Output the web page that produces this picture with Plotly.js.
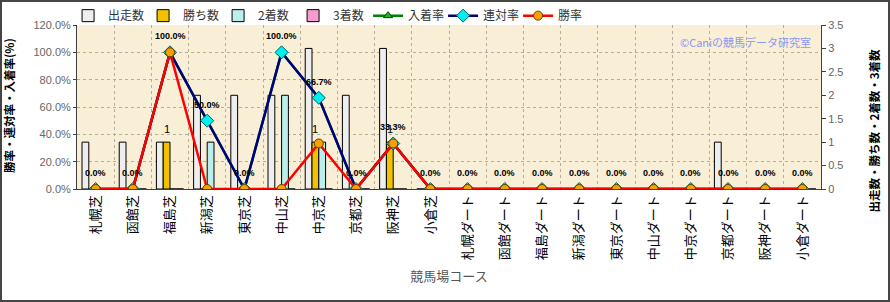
<!DOCTYPE html>
<html>
<head>
<meta charset="utf-8">
<script src="https://cdn.plot.ly/plotly-3.0.1.min.js"></script>
<style>
  html, body { margin: 0; padding: 0; background: #ffffff; }
  #frame { width: 890px; height: 302px; box-sizing: border-box; border: 2px solid #454545; background: #ffffff; }
  #chart { width: 886px; height: 298px; }
</style>
</head>
<body>
<div id="frame"><div id="chart"></div></div>
<script>
// ---- data ----
const categories = ['札幌芝','函館芝','福島芝','新潟芝','東京芝','中山芝','中京芝','京都芝','阪神芝','小倉芝',
  '札幌ダート','函館ダート','福島ダート','新潟ダート','東京ダート','中山ダート','中京ダート','京都ダート','阪神ダート','小倉ダート'];
const starts   = [1,1,1,2,2,2,3,2,3,0, 0,0,0,0,0,0,0,1,0,0];
const wins     = [0,0,1,0,0,0,1,0,1,0, 0,0,0,0,0,0,0,0,0,0];
const seconds  = [0,0,0,1,0,2,1,0,0,0, 0,0,0,0,0,0,0,0,0,0];
const thirds   = [0,0,0,0,0,0,0,0,0,0, 0,0,0,0,0,0,0,0,0,0];
const placeRate  = [0,0,100,50,0,100,66.7,0,33.3,0, 0,0,0,0,0,0,0,0,0,0];
const rentaiRate = [0,0,100,50,0,100,66.7,0,33.3,0, 0,0,0,0,0,0,0,0,0,0];
const winRate    = [0,0,100,0,0,0,33.3,0,33.3,0, 0,0,0,0,0,0,0,0,0,0];

const leftTitle = '勝率・連対率・入着率(%)';
const rightTitle = '出走数・勝ち数・2着数・3着数';
const xTitle = '競馬場コース';
const watermark = '©Caniの競馬データ研究室';

const FONT = 'Liberation Sans, Arial, Noto Sans CJK JP, sans-serif';
const JFONT = 'Noto Sans CJK JP, sans-serif';

function barTrace(name, y, fill) {
  return { type: 'bar', name: name, x: categories, y: y, yaxis: 'y',
    marker: { color: fill, line: { color: '#000000', width: 1 } }, hoverinfo: 'x+y' };
}
const traces = [
  barTrace('出走数', starts, '#eeeeee'),
  barTrace('勝ち数', wins, '#f2c200'),
  barTrace('2着数', seconds, '#bdeeee'),
  barTrace('3着数', thirds, '#f79ccc'),
  { type: 'scatter', mode: 'lines+markers', name: '入着率', x: categories, y: placeRate, yaxis: 'y2',
    line: { color: '#008000', width: 2.5 },
    marker: { symbol: 'triangle-up', size: 8, color: '#22b022', line: { color: '#005000', width: 1 } } },
  { type: 'scatter', mode: 'lines+markers', name: '連対率', x: categories, y: rentaiRate, yaxis: 'y2',
    line: { color: '#000080', width: 2.5 },
    marker: { symbol: 'diamond', size: 10, color: '#00f0f0', line: { color: '#006060', width: 1 } } },
  { type: 'scatter', mode: 'lines+markers', name: '勝率', x: categories, y: winRate, yaxis: 'y2',
    line: { color: '#ff0000', width: 2.5 },
    marker: { symbol: 'circle', size: 9, color: '#f7a000', line: { color: '#6a3a00', width: 1 } } }
];

const annotations = [];
rentaiRate.forEach((v, i) => {
  annotations.push({ x: categories[i], y: v, xref: 'x', yref: 'y2', yshift: 16, showarrow: false,
    text: v.toFixed(1) + '%', font: { family: FONT, size: 9, color: '#000000', weight: 'bold' } });
});
wins.forEach((v, i) => {
  if (v > 0) annotations.push({ x: categories[i], y: v, xref: 'x', yref: 'y', xshift: -3.4, yshift: 13,
    showarrow: false, text: String(v), font: { family: FONT, size: 11, color: '#000000' } });
});
annotations.push({ x: 0.989, y: 0.895, xref: 'paper', yref: 'paper', xanchor: 'right', yanchor: 'middle',
  showarrow: false, text: watermark, font: { family: JFONT, size: 11, color: '#8c98f0' } });
annotations.push({ x: -0.0914, y: 0.512, xref: 'paper', yref: 'paper', xanchor: 'center', yanchor: 'middle',
  textangle: -90, showarrow: false, text: leftTitle, font: { family: JFONT, size: 11.5, color: '#000000', weight: 'bold' } });
annotations.push({ x: 1.071, y: 0.355, xref: 'paper', yref: 'paper', xanchor: 'center', yanchor: 'middle',
  textangle: -90, showarrow: false, text: rightTitle, font: { family: JFONT, size: 11.5, color: '#000000', weight: 'bold' } });

const layout = {
  width: 886, height: 298,
  margin: { l: 75, r: 67, t: 23, b: 111, autoexpand: false },
  paper_bgcolor: '#ffffff', plot_bgcolor: '#f9eed6',
  font: { family: FONT, size: 11, color: '#555555' },
  barmode: 'group', bargap: 0.27, bargroupgap: 0,
  showlegend: true,
  legend: { orientation: 'h', x: -0.012, xanchor: 'left', y: 1.057, yanchor: 'middle',
    font: { family: JFONT, size: 12, color: '#333333' }, itemwidth: 30, entrywidth: 30, tracegroupgap: 0,
    bgcolor: 'rgba(0,0,0,0)' },
  xaxis: {
    type: 'category', range: [-0.5, 19.5], tickangle: -90, tickson: 'boundaries',
    showgrid: true, gridcolor: '#b4aea0', griddash: 'dot', gridwidth: 1,
    showline: true, linecolor: '#404040', linewidth: 1, ticks: '',
    tickfont: { family: JFONT, size: 13, color: '#000000' },
    title: { text: xTitle, font: { family: JFONT, size: 13, color: '#555555' }, standoff: 12 },
    automargin: false
  },
  yaxis: {
    side: 'right', range: [0, 3.5], dtick: 0.5, showgrid: false, zeroline: false,
    showline: true, linecolor: '#404040', linewidth: 1, ticks: 'outside', ticklen: 4, tickcolor: '#404040',
    tickfont: { family: FONT, size: 11, color: '#666666' },
    automargin: false
  },
  yaxis2: {
    overlaying: 'y', side: 'left', range: [0, 120], dtick: 20, tickformat: '.1f', ticksuffix: '%',
    showgrid: true, gridcolor: '#b4aea0', griddash: 'dot', gridwidth: 1, zeroline: false,
    showline: true, linecolor: '#404040', linewidth: 1, ticks: 'outside', ticklen: 3, tickcolor: '#404040',
    tickfont: { family: FONT, size: 11, color: '#666666' },
    automargin: false
  },
  annotations: annotations
};

Plotly.newPlot('chart', traces, layout, { displayModeBar: false, staticPlot: true });
</script>
</body>
</html>
